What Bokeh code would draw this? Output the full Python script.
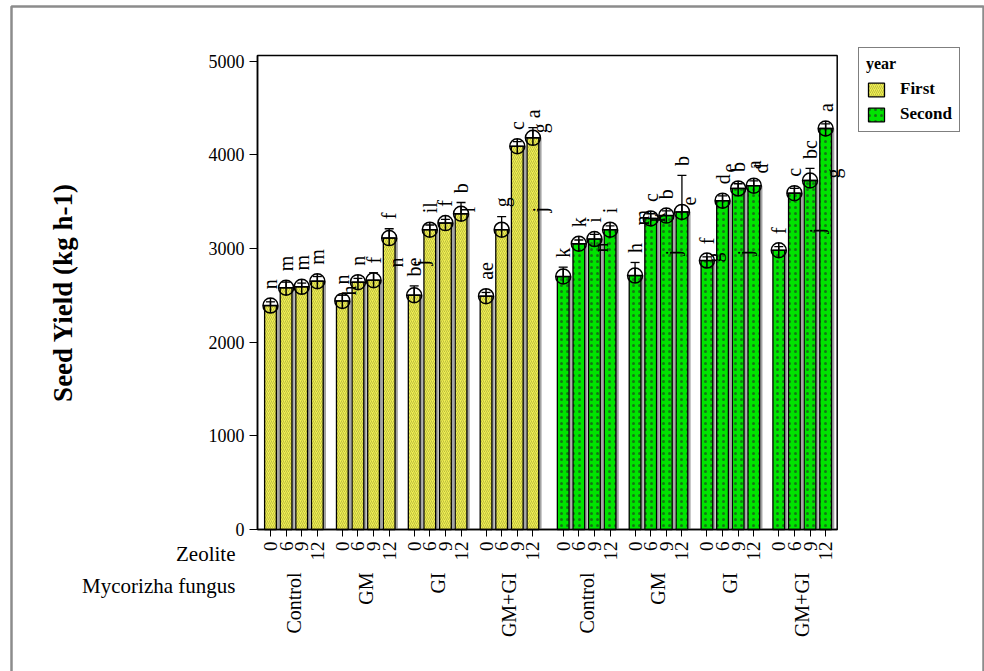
from math import pi
from bokeh.plotting import figure
from bokeh.models import (ColumnDataSource, FixedTicker, LinearAxis, Whisker, TeeHead,
                          Label, Legend, LegendItem, Range1d)
from bokeh.core.properties import value
from bokeh.embed import file_html
from bokeh.resources import INLINE

# ---------------- data ----------------
years = ["First", "Second"]
fungus = ["Control", "GM", "GI", "GM+GI"]
zeolite = ["0", "6", "9", "12"]

yield_first = [2390, 2580, 2590, 2650, 2440, 2640, 2660, 3110,
               2500, 3200, 3270, 3370, 2490, 3200, 4090, 4180]
yield_second = [2700, 3050, 3100, 3200, 2710, 3320, 3350, 3390,
                2870, 3510, 3640, 3670, 2980, 3590, 3725, 4280]
err_first = [40, 60, 40, 50, 60, 40, 80, 100,
             100, 50, 40, 120, 40, 140, 50, 110]
err_second = [100, 40, 50, 40, 140, 50, 50, 390,
              40, 50, 50, 50, 40, 50, 130, 50]
letters_first = ["n", "m", "m", "m", "n", "n", "f", "f",
                 "be", "il", "f", "b", "ae", "g", "c", "a"]
letters_second = ["k", "k", "i", "i", "h", "c", "b", "b",
                  "f", "d", "b", "a", "f", "c", "bc", "a"]
# secondary (overlapping) letter layer: bar index (0-31), letter, level
sec_bar = [4, 7, 8, 11, 15, 15, 18, 20, 21, 22, 23, 24, 25, 26, 27, 30, 31]
sec_letter = ["h", "n", "j", "l", "g", "j", "n", "m", "k", "j", "e", "g", "e", "j", "d", "j", "g"]
sec_y = [2497, 2796, 2817, 3383, 4228, 3383, 2956, 3244, 3276, 2924, 3458, 2850, 3810, 2924, 3800, 3159, 3746]
y_ticks = [0, 1000, 2000, 3000, 4000, 5000]

# ---------------- layout helpers ----------------
W, H = 984, 671
BAR_STEP = 50
GROUP_STEP = 230
YEAR_STEP = 937
FONT = "Liberation Serif"
# plot box (pixels) and the data values at its edges
PX_L, PX_R, PX_T, PX_B = 257, 836.7, 55, 529
X0, X1, Y0, Y1 = -41.5, 1814, 0, 5059
KX = (X1 - X0) / (PX_R - PX_L)
KY = (Y1 - Y0) / (PX_B - PX_T)


def px2x(px):
    return X0 + (px - PX_L) * KX


def px2y(py):
    return Y0 + (PX_B - py) * KY


xs, tops, errs, labs = [], [], [], []
for yi, (vals, es, ls) in enumerate([(yield_first, err_first, letters_first),
                                     (yield_second, err_second, letters_second)]):
    for gi in range(len(fungus)):
        for zi in range(len(zeolite)):
            k = gi * len(zeolite) + zi
            xs.append(yi * YEAR_STEP + gi * GROUP_STEP + zi * BAR_STEP)
            tops.append(vals[k])
            errs.append(es[k])
            labs.append(ls[k])

n_half = len(yield_first)
src1 = ColumnDataSource(dict(x=xs[:n_half], top=tops[:n_half]))
src2 = ColumnDataSource(dict(x=xs[n_half:], top=tops[n_half:]))
shadow = ColumnDataSource(dict(x=[x + 9 for x in xs], top=tops))
errsrc = ColumnDataSource(dict(x=xs, upper=[t + e for t, e in zip(tops, errs)],
                               lower=[t - e for t, e in zip(tops, errs)], top=tops))
letsrc = ColumnDataSource(dict(x=xs, y=[t + max(e, 75) + 100 for t, e in zip(tops, errs)], text=labs))
secsrc = ColumnDataSource(dict(x=[xs[b] + 22 for b in sec_bar], y=sec_y, text=sec_letter))

p = figure(width=W, height=H, output_backend="svg", toolbar_location=None,
           x_range=Range1d(px2x(0), px2x(W)), y_range=Range1d(px2y(H), px2y(0)),
           min_border=0)
p.grid.visible = False
p.outline_line_color = None
p.background_fill_color = "white"

# outer light-grey picture frame
p.quad(left=px2x(11), right=px2x(983), bottom=px2y(H + 20), top=px2y(6),
       fill_color=None, line_color="#8c8c8c", line_width=2.5)
# plot box
p.quad(left=X0, right=X1, bottom=Y0, top=Y1, fill_color=None, line_color="black", line_width=1.5)

BW = 37.5
p.vbar(x="x", top="top", width=BW, bottom=0, source=shadow, fill_color="#9a9a9a",
       line_color=None, fill_alpha=0.9)
r1 = p.vbar(x="x", top="top", width=BW, bottom=0, source=src1, fill_color="#f0f052",
            line_color="black", line_width=1.3, hatch_pattern="/", hatch_color="#3c3c10",
            hatch_scale=4, hatch_weight=0.5, hatch_alpha=0.55)
r2 = p.vbar(x="x", top="top", width=BW, bottom=0, source=src2, fill_color="#00e400",
            line_color="black", line_width=1.3, hatch_pattern=".", hatch_color="#1a5a1a",
            hatch_scale=6, hatch_weight=1.2, hatch_alpha=0.8)

p.add_layout(Whisker(source=errsrc, base="x", upper="upper", lower="lower",
                     line_color="black", line_width=1.3,
                     upper_head=TeeHead(size=9, line_color="black", line_width=1.3),
                     lower_head=TeeHead(size=9, line_color="black", line_width=1.3)))
p.scatter(x="x", y="top", source=errsrc, marker="circle_cross", size=15,
          fill_color=None, line_color="black", line_width=1.5)

p.text(x="x", y="y", text="text", source=letsrc, angle=pi / 2, text_align="left",
       text_baseline="middle", text_font=value(FONT), text_font_size="20px", text_color="black")
p.text(x="x", y="y", text="text", source=secsrc, angle=pi / 2, text_align="left",
       text_baseline="middle", text_font=value(FONT), text_font_size="20px", text_color="black")

# ---------------- axes ----------------
ax = p.xaxis[0]
ax.fixed_location = Y0
ax.bounds = (X0, X1)
ax.ticker = FixedTicker(ticks=xs)
ax.major_label_overrides = {x: zeolite[i % len(zeolite)] for i, x in enumerate(xs)}
ax.major_label_orientation = pi / 2
ax.major_label_text_font = FONT
ax.major_label_text_font_size = "19px"
ax.major_label_text_color = "black"
ax.major_tick_in = 0
ax.major_tick_out = 7
ax.major_tick_line_color = "black"
ax.minor_tick_line_color = None
ax.axis_line_color = "black"
ax.axis_line_width = 1.5
ax.major_label_standoff = 5

centers = [yi * YEAR_STEP + gi * GROUP_STEP + 1.5 * BAR_STEP
           for yi in range(len(years)) for gi in range(len(fungus))]
ax2 = LinearAxis(ticker=FixedTicker(ticks=centers), fixed_location=Y0, bounds=(X0, X1),
                 major_label_overrides={c: fungus[i % len(fungus)] for i, c in enumerate(centers)},
                 major_label_orientation=pi / 2, major_label_text_font=FONT,
                 major_label_text_font_size="20px", major_label_text_color="black",
                 major_tick_line_color=None, major_tick_out=0, major_tick_in=0,
                 minor_tick_line_color=None, axis_line_color=None, major_label_standoff=43)
p.add_layout(ax2, "below")

ay = p.yaxis[0]
ay.fixed_location = X0
ay.bounds = (Y0, Y1)
ay.ticker = FixedTicker(ticks=y_ticks)
ay.major_label_text_font = FONT
ay.major_label_text_font_size = "18px"
ay.major_label_text_color = "black"
ay.major_tick_in = 0
ay.major_tick_out = 8
ay.major_tick_line_color = "black"
ay.minor_tick_line_color = None
ay.axis_line_color = "black"
ay.axis_line_width = 1.5
ay.axis_label = "Seed Yield (kg h-1)"
ay.axis_label_text_font = FONT
ay.axis_label_text_font_style = "bold"
ay.axis_label_text_font_size = "27px"
ay.axis_label_text_color = "black"
ay.axis_label_standoff = 128

p.add_layout(Label(x=px2x(235), y=px2y(553), text="Zeolite", text_align="right",
                   text_baseline="middle", text_font=FONT, text_font_size="21px",
                   text_color="black"))
p.add_layout(Label(x=px2x(235), y=px2y(585), text="Mycorizha fungus", text_align="right",
                   text_baseline="middle", text_font=FONT, text_font_size="21px",
                   text_color="black"))

legend = Legend(items=[LegendItem(label=years[0], renderers=[r1]),
                       LegendItem(label=years[1], renderers=[r2])],
                location=(858, H - 132), title="year", title_text_font=FONT,
                title_text_font_style="bold", title_text_font_size="16px",
                title_text_color="black", label_text_color="black",
                label_text_font=FONT, label_text_font_style="bold", label_text_font_size="17px",
                glyph_width=20, glyph_height=17, label_standoff=14, padding=7, spacing=5,
                title_standoff=6, border_line_color="black", border_line_width=1.5,
                background_fill_alpha=1)
p.add_layout(legend, "center")

open("out.html", "w").write(file_html(p, INLINE))
